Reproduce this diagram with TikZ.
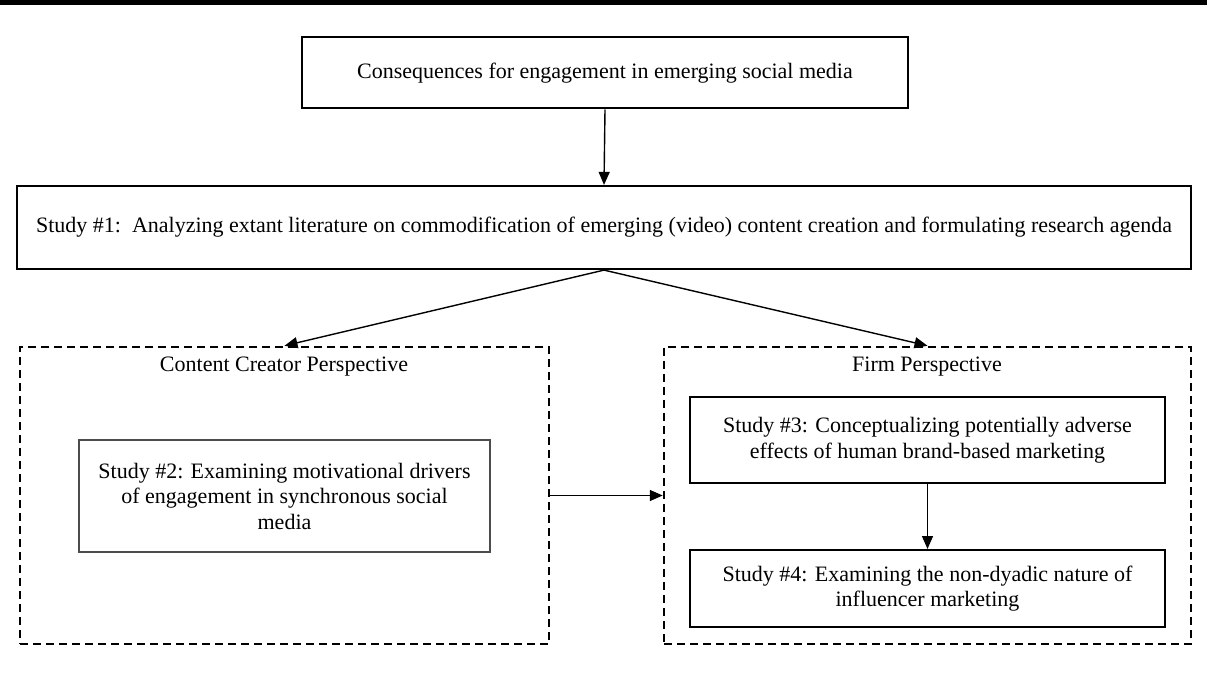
\documentclass[tikz,border=0pt]{standalone}
\usepackage{fontspec}
\setmainfont{Liberation Serif}
\usetikzlibrary{arrows.meta}
\begin{document}
\begin{tikzpicture}[x=1pt,y=-1pt,
  every node/.style={font=\fontsize{22}{25.5}\selectfont},
  box/.style={draw=black,line width=2pt,rectangle,align=center,inner sep=0pt},
  graybox/.style={draw=black!70,line width=2pt,rectangle,align=center,inner sep=0pt},
  dbox/.style={draw=black,line width=2.5pt,dash pattern=on 8pt off 5pt,rectangle,inner sep=0pt},
  conn/.style={line width=1.4pt,-{Triangle[length=13pt,width=11pt]}},
  lbl/.style={inner sep=0pt}]
\useasboundingbox (0,0) rectangle (1207,684);
\fill[black] (0,0) rectangle (1207,5);
% dashed perspective boxes
\node[dbox,minimum width=529pt,minimum height=297pt] (cc) at (284.5,495.5) {};
\node[dbox,minimum width=527pt,minimum height=297pt] (fp) at (927.5,495.5) {};
\node[lbl] (cclbl) at (284,367) {Content Creator Perspective};
\node[lbl] (fplbl) at (927,367) {Firm Perspective};
% boxes
\node[box,minimum width=606pt,minimum height=71pt] (top) at (605,73) {Consequences for engagement in emerging social media};
\node[box,line width=2.2pt,minimum width=1174pt,minimum height=83pt] (s1) at (604,227.5) {Study \#1:\ \ Analyzing extant literature on commodification of emerging (video) content creation and formulating research agenda};
\node[graybox,minimum width=411pt,minimum height=112pt] (s2) at (284.5,496) {Study \#2: Examining motivational drivers\\of engagement in synchronous social\\media};
\node[box,minimum width=475pt,minimum height=86pt] (s3) at (927.5,440) {Study \#3: Conceptualizing potentially adverse\\effects of human brand-based marketing};
\node[box,minimum width=475pt,minimum height=77pt] (s4) at (927.5,588.5) {Study \#4: Examining the non-dyadic nature of\\influencer marketing};
% connectors
\draw[conn] (top.south) -- (s1.north);
\draw[conn] (s1.south) -- (cc.north);
\draw[conn] (s1.south) -- (fp.north);
\draw[conn] (cc.east) -- (fp.west);
\draw[conn] (s3.south) -- (s4.north);
\end{tikzpicture}
\end{document}
